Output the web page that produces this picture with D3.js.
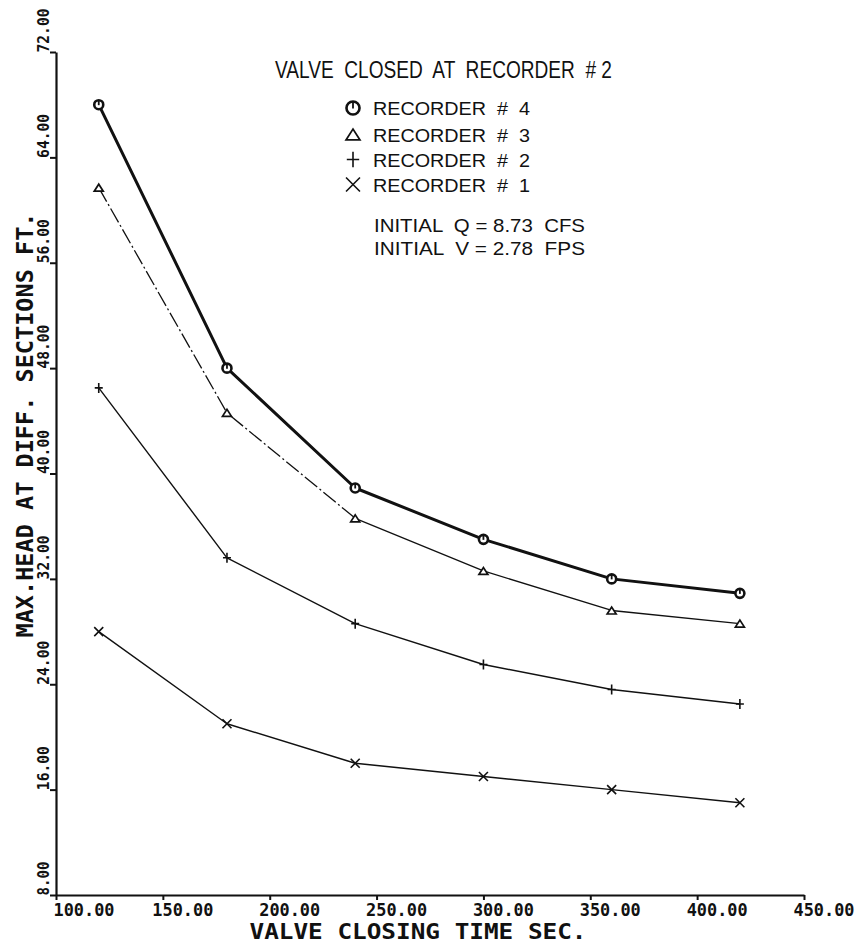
<!DOCTYPE html>
<html>
<head>
<meta charset="utf-8">
<script src="https://cdn.jsdelivr.net/npm/d3@7"></script>
<style>
  html, body { margin: 0; padding: 0; background: #fff; }
  svg { display: block; }
</style>
</head>
<body>
<svg id="chart" width="861" height="944"></svg>
<script>
// Valve closing time (sec) at which each run was made
const closingTimes = [120, 180, 240, 300, 360, 420];

// Maximum head (ft) observed at each recorder
const recorder4 = [68.0, 48.0, 38.9, 35.0, 32.0, 30.9];
const recorder3 = [61.7, 44.6, 36.6, 32.6, 29.6, 28.6];
const recorder2 = [46.5, 33.6, 28.6, 25.5, 23.6, 22.5];
const recorder1 = [28.0, 21.0, 18.0, 17.0, 16.0, 15.0];

// Axis ticks
const xTicks = [100, 150, 200, 250, 300, 350, 400, 450];
const yTicks = [8, 16, 24, 32, 40, 48, 56, 64, 72];

// Legend and annotation text
const titleText = "VALVE  CLOSED  AT  RECORDER  # 2";
const legendLabels = ["RECORDER  #  4", "RECORDER  #  3", "RECORDER  #  2", "RECORDER  #  1"];
const noteLines = ["INITIAL  Q = 8.73  CFS", "INITIAL  V = 2.78  FPS"];
const xTitle = "VALVE CLOSING TIME SEC.";
const yTitle = "MAX.HEAD AT DIFF. SECTIONS FT.";

const svg = d3.select("#chart");
const ink = "#111";
const monoFont = "'DejaVu Sans Mono', monospace";
const sansFont = "'Liberation Sans', Arial, sans-serif";

const x = d3.scaleLinear().domain([100, 450]).range([56, 804]);
const y = d3.scaleLinear().domain([8, 72]).range([895, 52]);

// ---- Axes ----
const xAxis = svg.append("g")
  .attr("transform", `translate(0,${y(8)})`)
  .call(d3.axisBottom(x).tickValues(xTicks).tickSize(5).tickSizeOuter(0)
    .tickFormat(d => d.toFixed(2)));
xAxis.select(".domain").attr("stroke", ink).attr("stroke-width", 2.2);
xAxis.selectAll(".tick line").attr("stroke", ink).attr("stroke-width", 2);
xAxis.selectAll(".tick text")
  .attr("fill", ink)
  .attr("font-family", monoFont)
  .attr("font-weight", "bold")
  .attr("font-size", 17)
  .attr("text-anchor", "start")
  .attr("dy", 0)
  .attr("y", 21)
  .attr("x", (d, i) => i === 0 ? -3 : -11)
  .attr("textLength", 61)
  .attr("lengthAdjust", "spacingAndGlyphs");

const yAxis = svg.append("g")
  .attr("transform", `translate(${x(100)},0)`)
  .call(d3.axisLeft(y).tickValues(yTicks).tickSize(6).tickSizeOuter(0)
    .tickFormat(d => d.toFixed(2)));
yAxis.select(".domain").attr("stroke", ink).attr("stroke-width", 2.2);
yAxis.selectAll(".tick line").attr("stroke", ink).attr("stroke-width", 2);
yAxis.selectAll(".tick text")
  .attr("fill", ink)
  .attr("font-family", monoFont)
  .attr("font-weight", "bold")
  .attr("font-size", 16.5)
  .attr("text-anchor", "start")
  .attr("x", 0).attr("y", 0).attr("dy", 0)
  .attr("transform", "translate(-7,0) rotate(-90)")
  .attr("textLength", d => d < 10 ? 34 : 44)
  .attr("lengthAdjust", "spacingAndGlyphs");

// Axis titles
svg.append("text")
  .attr("x", 418).attr("y", 939)
  .attr("text-anchor", "middle")
  .attr("font-family", monoFont).attr("font-weight", "bold")
  .attr("font-size", 21).attr("fill", ink)
  .attr("textLength", 337).attr("lengthAdjust", "spacingAndGlyphs")
  .text(xTitle);

svg.append("text")
  .attr("transform", "translate(33,425) rotate(-90)")
  .attr("text-anchor", "middle")
  .attr("font-family", monoFont).attr("font-weight", "bold")
  .attr("font-size", 23).attr("fill", ink)
  .attr("textLength", 425).attr("lengthAdjust", "spacingAndGlyphs")
  .text(yTitle);

// ---- Marker shapes ----
function drawMarker(g, type, cx, cy, s) {
  if (type === "circle") {
    g.append("circle").attr("cx", cx).attr("cy", cy).attr("r", 4.5 * s)
      .attr("fill", "#fff").attr("stroke", ink).attr("stroke-width", 2.6);
    g.append("line").attr("x1", cx).attr("x2", cx)
      .attr("y1", cy - 4.5 * s).attr("y2", cy + 0.5)
      .attr("stroke", ink).attr("stroke-width", 1.8);
  } else if (type === "triangle") {
    const w = 4.5 * s, h = 7 * s;
    g.append("path")
      .attr("d", `M${cx - w},${cy + h / 2}L${cx + w},${cy + h / 2}L${cx},${cy - h / 2}Z`)
      .attr("fill", "#fff").attr("stroke", ink).attr("stroke-width", 1.7);
  } else if (type === "plus") {
    const w = 4 * s, h = 5 * s;
    g.append("path")
      .attr("d", `M${cx - w},${cy}L${cx + w},${cy}M${cx},${cy - h}L${cx},${cy + h}`)
      .attr("stroke", ink).attr("stroke-width", 1.6).attr("fill", "none");
  } else {
    const w = 4.5 * s;
    g.append("path")
      .attr("d", `M${cx - w},${cy - w}L${cx + w},${cy + w}M${cx - w},${cy + w}L${cx + w},${cy - w}`)
      .attr("stroke", ink).attr("stroke-width", 1.6).attr("fill", "none");
  }
}

// ---- Series ----
const series = [
  { values: recorder1, marker: "cross", width: 1.4, brokenSegments: 0 },
  { values: recorder2, marker: "plus", width: 1.4, brokenSegments: 0 },
  { values: recorder3, marker: "triangle", width: 1.3, brokenSegments: 2 },
  { values: recorder4, marker: "circle", width: 3, brokenSegments: 0 }
];

const line = d3.line().x(d => x(d[0])).y(d => y(d[1]));
const plot = svg.append("g");

series.forEach(s => {
  const pts = closingTimes.map((t, i) => [t, s.values[i]]);
  const g = plot.append("g");
  const nb = s.brokenSegments;
  if (nb > 0) {
    // pen-skipped opening stretch drawn as a broken stroke
    g.append("path").attr("d", line(pts.slice(0, nb + 1)))
      .attr("fill", "none").attr("stroke", ink).attr("stroke-width", s.width)
      .attr("stroke-dasharray", "16,3,2,3");
  }
  g.append("path").attr("d", line(pts.slice(nb)))
    .attr("fill", "none").attr("stroke", ink).attr("stroke-width", s.width)
    .attr("stroke-linejoin", "round");
  pts.forEach(p => drawMarker(g, s.marker, x(p[0]), y(p[1]), 1));
});

// ---- Title, legend, notes ----
svg.append("text")
  .attr("x", 275).attr("y", 78)
  .attr("font-family", sansFont).attr("font-size", 24).attr("fill", ink)
  .attr("textLength", 337).attr("lengthAdjust", "spacingAndGlyphs")
  .style("white-space", "pre")
  .text(titleText);

const legendMarkers = ["circle", "triangle", "plus", "cross"];
const legendBaselines = [115, 141.5, 166.5, 191.5];
const legend = svg.append("g");
legendLabels.forEach((lab, i) => {
  const by = legendBaselines[i];
  const sc = legendMarkers[i] === "circle" ? 1.45 : 1.55;
  drawMarker(legend, legendMarkers[i], 353, by - 7, sc);
  legend.append("text")
    .attr("x", 373).attr("y", by)
    .attr("font-family", sansFont).attr("font-size", 18.5).attr("fill", ink)
    .attr("textLength", 157).attr("lengthAdjust", "spacingAndGlyphs")
    .style("white-space", "pre")
    .text(lab);
});

const noteBaselines = [232, 255];
noteLines.forEach((t, i) => {
  svg.append("text")
    .attr("x", 374).attr("y", noteBaselines[i])
    .attr("font-family", sansFont).attr("font-size", 19).attr("fill", ink)
    .attr("textLength", 211).attr("lengthAdjust", "spacingAndGlyphs")
    .style("white-space", "pre")
    .text(t);
});
</script>
</body>
</html>
